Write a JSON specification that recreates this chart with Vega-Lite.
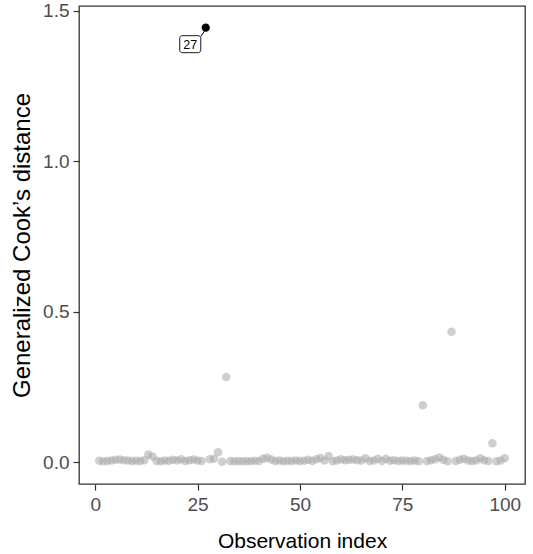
{
  "$schema": "https://vega.github.io/schema/vega-lite/v6.json",
  "autosize": {"type": "none"},
  "padding": {"left": 79, "top": 6, "right": 8, "bottom": 70},
  "width": 446,
  "height": 478,
  "config": {
    "view": {"stroke": "#333333", "strokeWidth": 1.3},
    "font": "Liberation Sans",
    "axis": {
      "grid": false,
      "domain": false,
      "tickColor": "#333333",
      "tickSize": 6,
      "tickWidth": 1.2,
      "labelColor": "#4D4D4D",
      "labelFontSize": 19,
      "labelFont": "Liberation Sans",
      "titleFont": "Liberation Sans",
      "titleFontWeight": "normal",
      "titleColor": "#000000"
    }
  },
  "data": {
    "values": [
      {"idx": 1, "cook": 0.005}, {"idx": 2, "cook": 0.003}, {"idx": 3, "cook": 0.004}, {"idx": 4, "cook": 0.006},
      {"idx": 5, "cook": 0.008}, {"idx": 6, "cook": 0.009}, {"idx": 7, "cook": 0.007}, {"idx": 8, "cook": 0.006},
      {"idx": 9, "cook": 0.004}, {"idx": 10, "cook": 0.005}, {"idx": 11, "cook": 0.004}, {"idx": 12, "cook": 0.007},
      {"idx": 13, "cook": 0.026}, {"idx": 14, "cook": 0.019}, {"idx": 15, "cook": 0.004}, {"idx": 16, "cook": 0.003},
      {"idx": 17, "cook": 0.006}, {"idx": 18, "cook": 0.005}, {"idx": 19, "cook": 0.008}, {"idx": 20, "cook": 0.006},
      {"idx": 21, "cook": 0.010}, {"idx": 22, "cook": 0.004}, {"idx": 23, "cook": 0.007}, {"idx": 24, "cook": 0.009},
      {"idx": 25, "cook": 0.006}, {"idx": 26, "cook": 0.004}, {"idx": 27, "cook": 1.443, "label": "27"}, {"idx": 28, "cook": 0.010},
      {"idx": 29, "cook": 0.012}, {"idx": 30, "cook": 0.033}, {"idx": 31, "cook": 0.002}, {"idx": 32, "cook": 0.283},
      {"idx": 33, "cook": 0.004}, {"idx": 34, "cook": 0.003}, {"idx": 35, "cook": 0.004}, {"idx": 36, "cook": 0.003},
      {"idx": 37, "cook": 0.004}, {"idx": 38, "cook": 0.003}, {"idx": 39, "cook": 0.005}, {"idx": 40, "cook": 0.004},
      {"idx": 41, "cook": 0.012}, {"idx": 42, "cook": 0.015}, {"idx": 43, "cook": 0.009}, {"idx": 44, "cook": 0.004},
      {"idx": 45, "cook": 0.006}, {"idx": 46, "cook": 0.003}, {"idx": 47, "cook": 0.005}, {"idx": 48, "cook": 0.004},
      {"idx": 49, "cook": 0.006}, {"idx": 50, "cook": 0.004}, {"idx": 51, "cook": 0.005}, {"idx": 52, "cook": 0.008},
      {"idx": 53, "cook": 0.004}, {"idx": 54, "cook": 0.010}, {"idx": 55, "cook": 0.014}, {"idx": 56, "cook": 0.006},
      {"idx": 57, "cook": 0.021}, {"idx": 58, "cook": 0.003}, {"idx": 59, "cook": 0.006}, {"idx": 60, "cook": 0.010},
      {"idx": 61, "cook": 0.007}, {"idx": 62, "cook": 0.008}, {"idx": 63, "cook": 0.009}, {"idx": 64, "cook": 0.007},
      {"idx": 65, "cook": 0.006}, {"idx": 66, "cook": 0.013}, {"idx": 67, "cook": 0.004}, {"idx": 68, "cook": 0.006},
      {"idx": 69, "cook": 0.012}, {"idx": 70, "cook": 0.004}, {"idx": 71, "cook": 0.012}, {"idx": 72, "cook": 0.005},
      {"idx": 73, "cook": 0.007}, {"idx": 74, "cook": 0.004}, {"idx": 75, "cook": 0.006}, {"idx": 76, "cook": 0.005},
      {"idx": 77, "cook": 0.004}, {"idx": 78, "cook": 0.006}, {"idx": 79, "cook": 0.003}, {"idx": 80, "cook": 0.189},
      {"idx": 81, "cook": 0.004}, {"idx": 82, "cook": 0.007}, {"idx": 83, "cook": 0.010}, {"idx": 84, "cook": 0.016},
      {"idx": 85, "cook": 0.008}, {"idx": 86, "cook": 0.003}, {"idx": 87, "cook": 0.433}, {"idx": 88, "cook": 0.004},
      {"idx": 89, "cook": 0.008}, {"idx": 90, "cook": 0.012}, {"idx": 91, "cook": 0.006}, {"idx": 92, "cook": 0.004},
      {"idx": 93, "cook": 0.006}, {"idx": 94, "cook": 0.013}, {"idx": 95, "cook": 0.007}, {"idx": 96, "cook": 0.004},
      {"idx": 97, "cook": 0.063}, {"idx": 98, "cook": 0.003}, {"idx": 99, "cook": 0.006}, {"idx": 100, "cook": 0.013}
    ]
  },
  "encoding": {
    "x": {
      "field": "idx", "type": "quantitative",
      "scale": {"domain": [-3.95, 104.95], "nice": false, "zero": false},
      "axis": {"values": [0, 25, 50, 75, 100], "title": "Observation index", "labelPadding": 5, "titlePadding": 16, "titleFontSize": 21}
    },
    "y": {
      "field": "cook", "type": "quantitative",
      "scale": {"domain": [-0.0722, 1.515], "nice": false, "zero": false},
      "axis": {"values": [0, 0.5, 1, 1.5], "format": ".1f", "title": "Generalized Cook’s distance", "labelPadding": 4, "titlePadding": 8, "titleFontSize": 24}
    }
  },
  "layer": [
    {
      "transform": [{"filter": "!datum.label"}],
      "mark": {"type": "circle", "size": 72, "color": "#a8a8a8", "opacity": 0.55}
    },
    {
      "transform": [{"filter": "datum.label"}],
      "mark": {"type": "circle", "size": 68, "color": "#000000", "opacity": 1}
    },
    {
      "transform": [{"filter": "datum.label"}],
      "mark": {"type": "rule", "color": "#000000", "strokeWidth": 1, "xOffset": -5, "x2Offset": -1, "yOffset": 9, "y2Offset": 3},
      "encoding": {"x2": {"field": "idx"}, "y2": {"field": "cook"}}
    },
    {
      "transform": [{"filter": "datum.label"}],
      "mark": {"type": "rect", "fill": "#ffffff", "stroke": "#000000", "strokeWidth": 0.9, "cornerRadius": 2.5, "xOffset": -26, "x2Offset": -5, "yOffset": 8, "y2Offset": 25},
      "encoding": {"x2": {"field": "idx"}, "y2": {"field": "cook"}}
    },
    {
      "transform": [{"filter": "datum.label"}],
      "mark": {"type": "text", "dx": -15.5, "dy": 17, "fontSize": 12.5, "color": "#000000", "font": "Liberation Sans", "align": "center", "baseline": "middle"},
      "encoding": {"text": {"field": "label"}}
    }
  ]
}
